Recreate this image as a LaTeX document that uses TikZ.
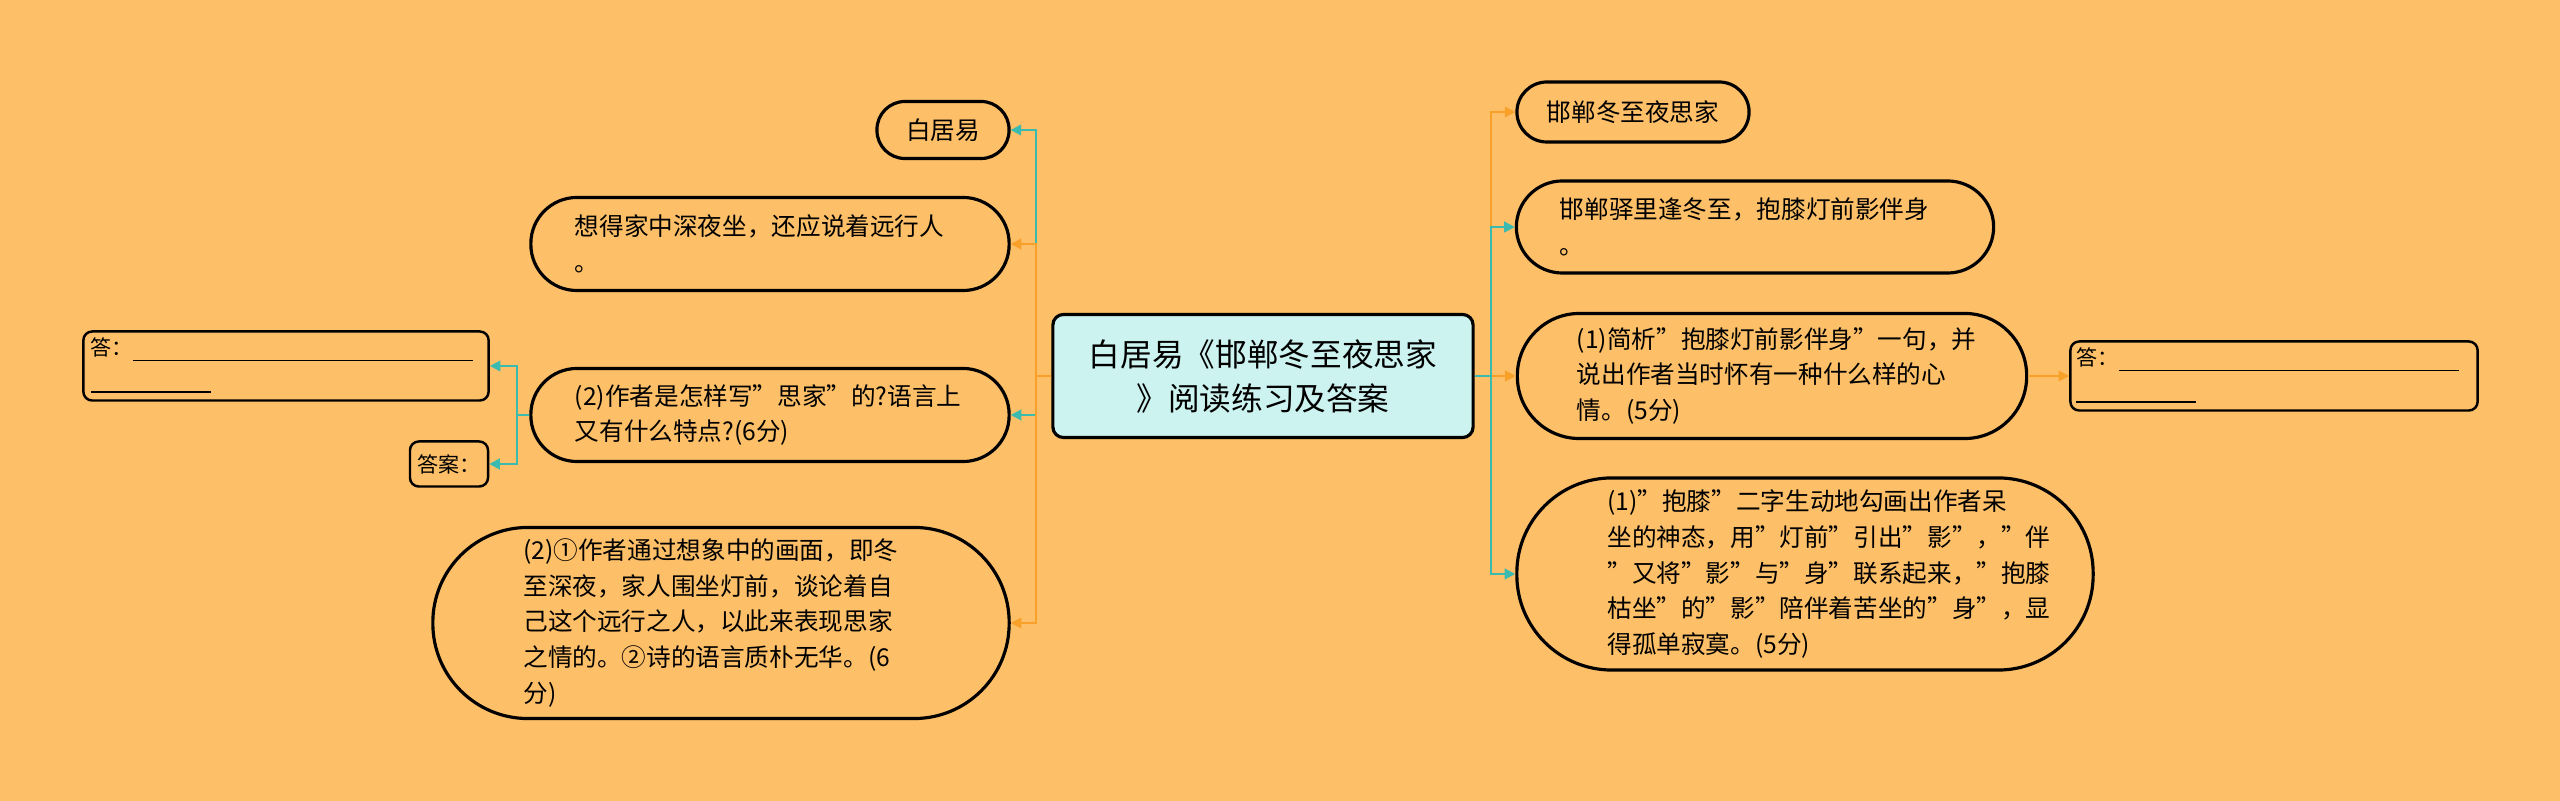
\documentclass[tikz,border=0pt]{standalone}
\usepackage{fontspec}
\setmainfont{Noto Sans CJK SC}
\usetikzlibrary{arrows.meta}
\definecolor{bg}{HTML}{FDBF68}
\definecolor{cyanf}{HTML}{CDF3F0}
\definecolor{org}{HTML}{F7A12A}
\definecolor{tealc}{HTML}{3BBBB0}
\tikzset{
 pill/.style={draw=black,line width=0.9pt,fill=bg,align=left,font=\fontsize{7pt}{10.2pt}\selectfont,inner sep=0pt},
 box/.style={draw=black,line width=0.7pt,fill=bg,rounded corners=2.5pt,align=left,font=\fontsize{6pt}{9pt}\selectfont,inner sep=0pt},
 oc/.style={draw=org,line width=0.6pt,-{Triangle[length=3pt,width=3pt]}},
 tc/.style={draw=tealc,line width=0.6pt,-{Triangle[length=3pt,width=3pt]}},
}
\begin{document}
\begin{tikzpicture}[x=0.01cm,y=-0.01cm]
\fill[bg] (0,0) rectangle (2560,801);
\useasboundingbox (0,0) rectangle (2560,801);
\node[draw=black,line width=0.9pt,fill=cyanf,rounded corners=3pt,minimum width=4.2cm,minimum height=1.23cm,align=center,font=\fontsize{9pt}{12.5pt}\selectfont] (c) at (1263,376) {白居易《邯郸冬至夜思家\\》阅读练习及答案};
\node[pill,minimum width=1.32cm,minimum height=0.57cm,rounded corners=0.28cm,align=center] (a1) at (943,130) {白居易};
\node[pill,minimum width=4.78cm,minimum height=0.93cm,rounded corners=0.46cm] (a2) at (770,244) {\parbox{3.9cm}{想得家中深夜坐，还应说着远行人\\。}};
\node[pill,minimum width=4.78cm,minimum height=0.93cm,rounded corners=0.46cm] (a3) at (770,415) {\parbox{3.9cm}{(2)作者是怎样写"思家"的?语言上\\又有什么特点?(6分)}};
\node[pill,minimum width=5.76cm,minimum height=1.91cm,rounded corners=0.95cm] (a4) at (721,623) {\parbox{3.95cm}{(2)①作者通过想象中的画面，即冬\\至深夜，家人围坐灯前，谈论着自\\己这个远行之人，以此来表现思家\\之情的。②诗的语言质朴无华。(6\\分)}};
\node[box,minimum width=4.05cm,minimum height=0.69cm] (b1) at (286,366) {\parbox{3.9cm}{答：\underline{\hspace{3.4cm}}\\\underline{\hspace{1.2cm}}}};
\node[box,minimum width=0.78cm,minimum height=0.45cm,align=center] (b2) at (449,464) {答案：};
\node[pill,minimum width=2.32cm,minimum height=0.6cm,rounded corners=0.3cm,align=center] (r1) at (1633,112) {邯郸冬至夜思家};
\node[pill,minimum width=4.77cm,minimum height=0.92cm,rounded corners=0.46cm] (r2) at (1755,227) {\parbox{3.9cm}{邯郸驿里逢冬至，抱膝灯前影伴身\\。}};
\node[pill,minimum width=5.09cm,minimum height=1.25cm,rounded corners=0.62cm] (r3) at (1772,376) {\parbox{3.9cm}{(1)简析"抱膝灯前影伴身"一句，并\\说出作者当时怀有一种什么样的心\\情。(5分)}};
\node[pill,minimum width=5.76cm,minimum height=1.92cm,rounded corners=0.95cm] (r4) at (1805,574) {\parbox{3.95cm}{(1)"抱膝"二字生动地勾画出作者呆\\坐的神态，用"灯前"引出"影"，"伴\\"又将"影"与"身"联系起来，"抱膝\\枯坐"的"影"陪伴着苦坐的"身"，显\\得孤单寂寞。(5分)}};
\node[box,minimum width=4.07cm,minimum height=0.69cm] (rb) at (2274,376) {\parbox{3.95cm}{答：\underline{\hspace{3.4cm}}\\\underline{\hspace{1.2cm}}}};
\draw[tc] (c.west) -- ++(-15,0) |- (a1.east);
\draw[oc] (c.west) -- ++(-15,0) |- (a2.east);
\draw[tc] (c.west) -- ++(-15,0) |- (a3.east);
\draw[oc] (c.west) -- ++(-15,0) |- (a4.east);
\draw[org,line width=0.6pt] (c.west) -- ++(-15,0);
\draw[oc] (c.east) -- ++(16,0) |- (r1.west);
\draw[tc] (c.east) -- ++(16,0) |- (r2.west);
\draw[oc] (c.east) -- ++(16,0) |- (r3.west);
\draw[tc] (c.east) -- ++(16,0) |- (r4.west);
\draw[oc] (r3.east) -- (rb.west);
\draw[tc] (a3.west) -- ++(-12,0) |- (b1.east);
\draw[tc] (a3.west) -- ++(-12,0) |- (b2.east);
\end{tikzpicture}
\end{document}
